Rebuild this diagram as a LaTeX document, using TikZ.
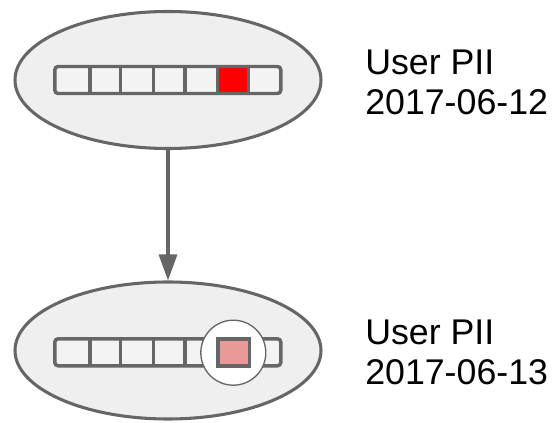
\documentclass[tikz,border=0pt]{standalone}
\usepackage{fontspec}
\setmainfont{Liberation Sans}
\usetikzlibrary{shapes.geometric,arrows.meta}
\definecolor{edge}{HTML}{666666}
\definecolor{shell}{HTML}{EFEFEF}
\definecolor{cellbg}{HTML}{F3F3F3}
\definecolor{hot}{HTML}{FF0000}
\definecolor{faded}{HTML}{EA9999}
\tikzset{
  snapshot/.style={ellipse, draw=edge, fill=shell, line width=2.3pt,
    minimum width=229.5pt, minimum height=102.75pt, inner sep=0pt},
  barframe/.style={draw=edge, line width=2.6pt, rounded corners=2.5pt},
  divider/.style={draw=edge, line width=2.6pt},
  caption/.style={font=\fontsize{26.8}{30}\selectfont, anchor=base west,
    inner sep=0pt, text=black},
  flow/.style={draw=edge, line width=2.4pt,
    -{Triangle[length=19.5pt, width=13.5pt]}},
  lens/.style={circle, draw=edge, fill=white, line width=1pt,
    minimum size=48.75pt, inner sep=0pt},
  picked/.style={draw=edge, line width=2.6pt, inner sep=0pt,
    minimum width=23.6pt, minimum height=20.25pt},
}
\begin{document}
\begin{tikzpicture}[x=0.75pt,y=-0.75pt]
\useasboundingbox (0,0) rectangle (557,423);

% the two snapshots
\node[snapshot] (old) at (168,80) {};
\node[snapshot] (new) at (168,350.5) {};

% record bar of the first snapshot, one slot marked
\fill[cellbg, rounded corners=2.5pt] (54.8,66.5) rectangle (280.8,93.5);
\fill[hot] (217.3,66.5) rectangle (248.3,93.5);
\draw[barframe] (54.8,66.5) rectangle (280.8,93.5);
\foreach \x in {90,120.7,153.3,185,217.3,248.3}
  \draw[divider] (\x,66.5) -- (\x,93.5);

% record bar of the second snapshot
\fill[cellbg, rounded corners=2.5pt] (54.8,338.8) rectangle (280.8,365.8);
\draw[barframe] (54.8,338.8) rectangle (280.8,365.8);
\foreach \x in {90,120.7,153.3,185,217.3,248.3}
  \draw[divider] (\x,338.8) -- (\x,365.8);

% magnified slot
\node[lens] (loupe) at (233.3,352.7) {};
\node[picked, fill=faded] (slot) at (233.75,352.3) {};

% transition between the snapshots
\draw[flow] (old) -- (new);

% captions
\node[caption] (oldname) at (365,75) {User PII};
\node[caption] (olddate) at (365,115) {2017-06-12};
\node[caption] (newname) at (365,345) {User PII};
\node[caption] (newdate) at (365,385) {2017-06-13};
\end{tikzpicture}
\end{document}
